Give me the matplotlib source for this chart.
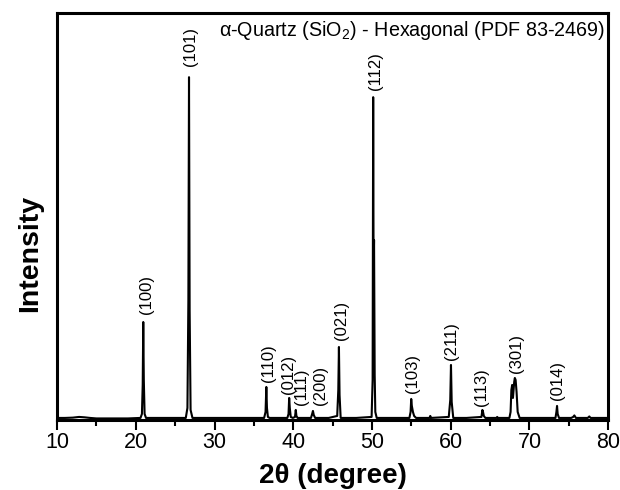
import matplotlib
matplotlib.use('Agg')
import matplotlib.pyplot as plt

plt.rcParams['font.family'] = ['Liberation Sans', 'DejaVu Sans']
plt.rcParams['mathtext.fontset'] = 'custom'
plt.rcParams['mathtext.rm'] = 'Liberation Sans'

# XRD pattern (2theta, intensity in arbitrary units)
two_theta = [10.0, 11.0, 12.0, 12.8, 13.5, 14.2, 15.0, 17.0, 19.0, 20.6,
             20.78, 20.88, 20.95, 21.02, 21.12, 21.3,
             24.0, 26.35, 26.56, 26.68, 26.76, 26.84, 26.96, 27.2,
             30.0, 33.0, 36.3, 36.48, 36.58, 36.66, 36.78, 37.0,
             38.5, 39.25, 39.4, 39.48, 39.56, 39.68, 39.95, 40.22, 40.32, 40.4, 40.55,
             41.5, 42.25, 42.4, 42.5, 42.6, 42.78,
             44.5, 45.58, 45.72, 45.8, 45.88, 46.02,
             48.0, 49.95, 50.08, 50.15, 50.2, 50.26, 50.34, 50.42, 50.6,
             53.0, 54.75, 54.9, 54.98, 55.06, 55.2, 55.35, 55.6,
             57.3, 57.4, 57.5, 59.75, 59.94, 60.03, 60.12, 60.32,
             62.0, 63.9, 64.02, 64.1, 64.2, 64.4,
             65.8, 65.9, 66.0, 67.45, 67.6, 67.7, 67.8, 67.9, 67.98, 68.06, 68.14, 68.24,
             68.36, 68.5, 68.75,
             71.0, 73.3, 73.42, 73.5, 73.58, 73.75,
             75.3, 75.55, 75.7, 75.9, 77.4, 77.6, 77.75, 80.0]
intensity = [2, 2, 2.3, 3, 2.6, 2, 1.5, 1.5, 1.5, 2,
             6, 35, 98, 40, 6, 2,
             2, 2, 12, 120, 343, 110, 10, 2,
             2, 2, 2, 8, 33, 12, 3, 2,
             2, 2, 6, 22, 12, 3, 2, 3, 10, 4, 2,
             2, 2, 6, 9, 5, 2,
             2, 4, 30, 73, 25, 2,
             2, 3, 40, 323, 150, 180, 45, 8, 2,
             2, 2, 8, 21, 14, 8, 4, 2,
             2, 4, 2, 3, 20, 55, 18, 2,
             2, 3, 10, 8, 4, 2,
             2, 3, 2, 2, 8, 30, 35, 22, 30, 38, 42, 40,
             28, 8, 2,
             2, 2, 8, 14, 6, 2,
             2, 3, 4.5, 2, 2, 3.5, 2, 2]

# Miller indices and where each label sits
hkl = ['(100)', '(101)', '(110)', '(012)', '(111)', '(200)', '(021)',
       '(112)', '(103)', '(211)', '(113)', '(301)', '(014)']
label_x = [21.3, 26.9, 36.8, 39.4, 41.1, 43.4, 46.1,
           50.4, 55.2, 60.1, 63.9, 68.4, 73.5]
label_y = [106, 354, 38, 26, 15, 15, 80, 330, 27, 60, 14, 47, 20]

fig = plt.figure(figsize=(6.2, 4.9), dpi=100)
ax = fig.add_axes([0.092, 0.143, 0.889, 0.830])

ax.plot(two_theta, intensity, color='black', lw=1.5)

for lab, x, y in zip(hkl, label_x, label_y):
    ax.text(x, y, lab, rotation=90, ha='center', va='bottom', fontsize=12)

ax.text(0.995, 0.985, 'α-Quartz (SiO$_2$) - Hexagonal (PDF 83-2469)',
        transform=ax.transAxes, ha='right', va='top', fontsize=14.2)

ax.set_xlim(10, 80)
ax.set_ylim(0, 407)
ax.set_xticks(range(10, 81, 10))
ax.set_xticks(range(15, 80, 10), minor=True)
ax.set_yticks([])
ax.tick_params(axis='x', which='major', direction='out', length=7, width=1.5,
               labelsize=15.5, pad=2)
ax.tick_params(axis='x', which='minor', direction='out', length=4, width=1.5)
for sp in ax.spines.values():
    sp.set_linewidth(2.2)

ax.set_xlabel('2θ (degree)', fontsize=20, fontweight='bold', labelpad=7)
ax.set_ylabel('Intensity', fontsize=20.5, fontweight='bold')
ax.yaxis.set_label_coords(-0.025, 0.41)

fig.savefig('out.png', dpi=100)
